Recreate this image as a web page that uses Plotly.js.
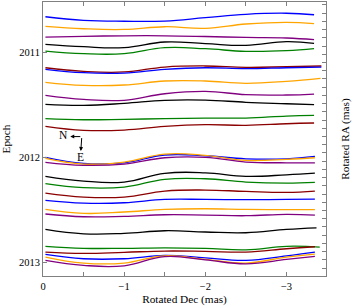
<!DOCTYPE html>
<html>
<head>
<meta charset="utf-8">
<script src="https://cdn.plot.ly/plotly-3.0.1.min.js"></script>
<style>html,body{margin:0;padding:0;background:#fff;}#chart{width:352px;height:306px;}</style>
</head>
<body>
<div id="chart"></div>
<script>
// Rotated Dec (mas) sample positions along each track (last point = track end)
const decSamples = [-0.03, -0.5, -1, -1.5, -2, -2.5, -3];
const trackEnds = [-3.34, -3.34, -3.34, -3.34, -3.34, -3.43, -3.43, -3.42, -3.34, -3.34, -3.34, -3.34,
                   -3.35, -3.35, -3.35, -3.35, -3.35, -3.35, -3.35, -3.35, -3.35, -3.37, -3.41, -3.35, -3.35, -3.35, -3.35];

// Epoch-axis position of each track at the sample positions
const track01 = [2010.662, 2010.696, 2010.705, 2010.703, 2010.671, 2010.639, 2010.629, 2010.643];
const track02 = [2010.753, 2010.776, 2010.783, 2010.757, 2010.772, 2010.731, 2010.715, 2010.728];
const track03 = [2010.855, 2010.848, 2010.843, 2010.843, 2010.850, 2010.859, 2010.864, 2010.880];
const track04 = [2010.924, 2010.947, 2010.955, 2010.902, 2010.918, 2010.934, 2010.899, 2010.915];
const track05 = [2010.988, 2011.013, 2011.013, 2010.956, 2010.966, 2010.991, 2010.985, 2010.966];
const track06 = [2011.147, 2011.181, 2011.187, 2011.140, 2011.130, 2011.143, 2011.137, 2011.130];
const track07 = [2011.162, 2011.194, 2011.197, 2011.162, 2011.147, 2011.156, 2011.147, 2011.140];
const track08 = [2011.285, 2011.314, 2011.311, 2011.273, 2011.273, 2011.295, 2011.276, 2011.247];
const track09 = [2011.409, 2011.447, 2011.456, 2011.394, 2011.371, 2011.403, 2011.406, 2011.397];
const track10 = [2011.494, 2011.504, 2011.485, 2011.456, 2011.454, 2011.475, 2011.489, 2011.498];
const track11 = [2011.631, 2011.641, 2011.637, 2011.631, 2011.625, 2011.625, 2011.606, 2011.599];
const track12 = [2011.704, 2011.742, 2011.739, 2011.704, 2011.688, 2011.694, 2011.679, 2011.672];
const track13 = [2011.998, 2012.055, 2012.050, 2011.976, 2011.983, 2012.012, 2012.012, 2011.989];
const track14 = [2012.008, 2012.062, 2012.043, 2011.967, 2011.979, 2012.027, 2012.017, 2012.002];
const track15 = [2012.046, 2012.074, 2012.062, 2012.002, 2011.998, 2012.043, 2012.050, 2012.050];
const track16 = [2012.179, 2012.224, 2012.233, 2012.150, 2012.145, 2012.179, 2012.164, 2012.148];
const track17 = [2012.249, 2012.287, 2012.281, 2012.207, 2012.202, 2012.233, 2012.243, 2012.236];
const track18 = [2012.338, 2012.376, 2012.376, 2012.319, 2012.309, 2012.322, 2012.331, 2012.319];
const track19 = [2012.407, 2012.433, 2012.430, 2012.398, 2012.398, 2012.401, 2012.398, 2012.395];
const track20 = [2012.493, 2012.531, 2012.518, 2012.493, 2012.487, 2012.493, 2012.496, 2012.496];
const track21 = [2012.537, 2012.563, 2012.559, 2012.544, 2012.547, 2012.553, 2012.540, 2012.547];
const track22 = [2012.683, 2012.725, 2012.721, 2012.696, 2012.708, 2012.715, 2012.683, 2012.668];
const track23 = [2012.844, 2012.863, 2012.863, 2012.858, 2012.863, 2012.877, 2012.844, 2012.851];
const track24 = [2012.899, 2012.911, 2012.901, 2012.889, 2012.892, 2012.899, 2012.867, 2012.848];
const track25 = [2012.920, 2012.962, 2012.962, 2012.930, 2012.953, 2012.977, 2012.934, 2012.899];
const track26 = [2012.946, 2013.003, 2013.003, 2012.934, 2012.968, 2013.003, 2012.946, 2012.918];
const track27 = [2012.977, 2013.025, 2013.029, 2012.941, 2012.972, 2013.010, 2012.968, 2012.939];

const tracks = [track01, track02, track03, track04, track05, track06, track07, track08, track09,
                track10, track11, track12, track13, track14, track15, track16, track17, track18,
                track19, track20, track21, track22, track23, track24, track25, track26, track27];
const colorCycle = ['#0000ff', '#ffa500', '#800080', '#000000', '#008000', '#8b0000'];

const decTickVals = [0, -0.5, -1, -1.5, -2, -2.5, -3];
const decTickText = ['0', '', '\u22121', '', '\u22122', '', '\u22123'];
const epochTicks = [2011, 2012, 2013];

const FONT = '"Liberation Serif", "Times New Roman", serif';
const AXC = '#808080';

const traces = tracks.map((t, i) => ({
  type: 'scatter', mode: 'lines',
  x: decSamples.concat([trackEnds[i]]),
  y: t,
  line: {color: colorCycle[i % colorCycle.length], width: 1.3, shape: 'spline', smoothing: 1.2},
  hoverinfo: 'skip', showlegend: false
}));
traces.push({type: 'scatter', mode: 'lines', x: [], y: [], yaxis: 'y2', showlegend: false});

// compass
const compassCorner = {x: -0.478, y: 2011.801};
const northHead = {x: -0.336, y: 2011.801};
const eastHead = {x: -0.466, y: 2011.938};

const layout = {
  width: 352, height: 306,
  margin: {l: 43, r: 26, t: 2, b: 30},
  paper_bgcolor: '#fff', plot_bgcolor: '#fff',
  font: {family: FONT, size: 10.5, color: '#000'},
  showlegend: false,
  xaxis: {
    range: [0, -3.487], tickvals: decTickVals, ticktext: decTickText,
    ticks: 'inside', ticklen: 4, tickcolor: AXC, showline: true, linecolor: AXC, linewidth: 1,
    mirror: 'ticks', showgrid: false, zeroline: false,
    tickfont: {family: FONT, size: 10.5},
    title: {text: 'Rotated Dec (mas)', font: {family: FONT, size: 11.3}, standoff: 4}
  },
  yaxis: {
    range: [2013.126, 2010.522], tickvals: epochTicks,
    ticks: 'inside', ticklen: 4, tickcolor: AXC, showline: true, linecolor: AXC, linewidth: 1,
    showgrid: false, zeroline: false,
    tickfont: {family: FONT, size: 10.5},
    title: {text: 'Epoch', font: {family: FONT, size: 11.3}}
  },
  yaxis2: {
    overlaying: 'y', side: 'right', range: [-0.973, 32.36], tick0: 0, dtick: 1,
    ticks: 'inside', ticklen: 4, tickcolor: AXC, showline: true, linecolor: AXC, linewidth: 1,
    showticklabels: false, showgrid: false, zeroline: false,
    title: {text: 'Rotated RA (mas)', font: {family: FONT, size: 11.3}}
  },
  annotations: [
    {x: northHead.x, y: northHead.y, ax: compassCorner.x, ay: compassCorner.y, axref: 'x', ayref: 'y',
     xref: 'x', yref: 'y', text: '', showarrow: true, arrowhead: 2, arrowsize: 0.8, arrowwidth: 1, arrowcolor: '#000'},
    {x: eastHead.x, y: eastHead.y, ax: compassCorner.x, ay: compassCorner.y, axref: 'x', ayref: 'y',
     xref: 'x', yref: 'y', text: '', showarrow: true, arrowhead: 2, arrowsize: 0.8, arrowwidth: 1, arrowcolor: '#000'},
    {x: -0.25, y: 2011.782, xref: 'x', yref: 'y', text: 'N', showarrow: false, font: {family: FONT, size: 11.5}},
    {x: -0.459, y: 2011.995, xref: 'x', yref: 'y', text: 'E', showarrow: false, font: {family: FONT, size: 11.5}}
  ]
};

Plotly.newPlot('chart', traces, layout, {staticPlot: true, displayModeBar: false});
</script>
</body>
</html>
